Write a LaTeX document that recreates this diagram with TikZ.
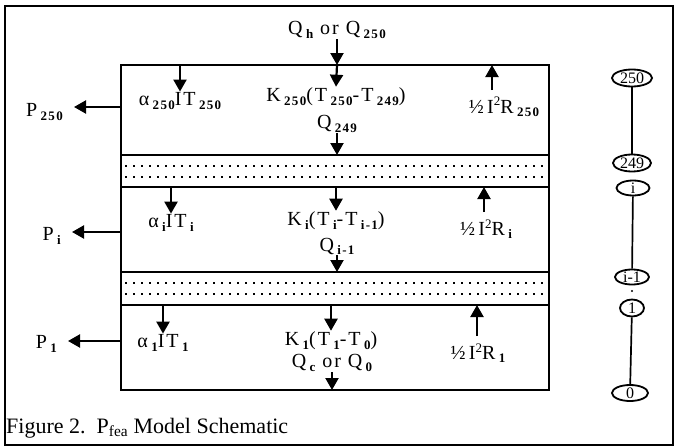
\documentclass[tikz,border=0pt]{standalone}
\usepackage{fontspec}
\setmainfont{Liberation Serif}
\newfontfamily\lblfont[LetterSpace=10]{Liberation Serif}
\usetikzlibrary{arrows.meta,shapes.geometric,positioning}
\newcommand{\sbs}[1]{\,\raisebox{-0.35ex}{\fontsize{13}{13}\selectfont\bfseries #1}}
\newcommand{\spr}[1]{\raisebox{0.8ex}{\fontsize{13}{13}\selectfont #1}}

\begin{document}
\begin{tikzpicture}[x=1pt,y=-1pt,
  lbl/.style={inner sep=1pt,font=\lblfont\fontsize{20}{22}\selectfont},
  flow/.style={line width=2.2pt,-{Triangle[width=13pt,length=12pt]}},
  wall/.style={line width=2.4pt},
  dotrow/.style={line width=1.8pt,dash pattern=on 2pt off 6pt},
  seg/.style={ellipse,draw,line width=1.8pt,inner sep=0pt,font=\fontsize{16}{16}\selectfont},
  link/.style={line width=1.7pt}]
  \useasboundingbox (0,0) rectangle (678,447);
  \def\xl{121}
  \def\xr{549}
  % frame and layers
  \draw[line width=1.5pt] (5,6) rectangle (673,445);
  \draw[wall] (\xl,65) rectangle (\xr,390);
  \foreach \y in {155,187,272,305}
    \draw[wall] (\xl,\y) -- (\xr,\y);
  \foreach \y in {166,177,283,294}
    \draw[dotrow] (\xl+4,\y) -- (\xr-4,\y);
  \coordinate (t250) at (\xl,65);
  \coordinate (b250) at (\xl,155);
  \coordinate (ti)   at (\xl,187);
  \coordinate (bi)   at (\xl,272);
  \coordinate (t1)   at (\xl,305);
  \coordinate (b1)   at (\xl,390);

  % layer 250
  \node[lbl] (qh)   at (337,30)  {Q\sbs{h} or Q\sbs{250}};
  \node[lbl] (k250) at (336,97)  {K\sbs{250}(T\sbs{250}-T\sbs{249})};
  \node[lbl] (q249) at (337,124) {Q\sbs{249}};
  \node[lbl] (a250) at (180,101) {α\sbs{250}IT\sbs{250}};
  \node[lbl] (r250) at (504,107) {½\,I\spr{2}R\sbs{250}};
  \node[lbl,anchor=east] (p250) at (64,112) {P\sbs{250}};
  \coordinate (ra250) at (492,65);
  \coordinate (e250)  at (\xl,107);
  \draw[flow] (qh.south) -- (qh.south |- t250);
  \draw[flow] (qh.south |- t250) -- (k250.north);
  \draw[flow] (q249.south) -- (q249.south |- b250);
  \draw[flow] (a250.north |- t250) -- (a250.north);
  \draw[flow,shorten <=6pt] (r250.north -| ra250) -- (ra250);
  \draw[flow,shorten >=10pt] (e250) -- (e250 -| p250.east);

  % layer i
  \node[lbl] (ki)  at (336,221) {K\sbs{i}(T\sbs{i}-T\sbs{i-1})};
  \node[lbl] (qi1) at (337,246) {Q\sbs{i-1}};
  \node[lbl] (ai)  at (171,223) {α\sbs{i}IT\sbs{i}};
  \node[lbl] (ri)  at (486,229) {½\,I\spr{2}R\sbs{i}};
  \node[lbl,anchor=east] (pi) at (62,236) {P\sbs{i}};
  \coordinate (rai) at (484,187);
  \coordinate (ei)  at (\xl,232);
  \draw[flow] (ki.north |- ti) -- (ki.north);
  \draw[flow] (qi1.south) -- (qi1.south |- bi);
  \draw[flow] (ai.north |- ti) -- (ai.north);
  \draw[flow,shorten <=6pt] (ri.north -| rai) -- (rai);
  \draw[flow,shorten >=10pt] (ei) -- (ei -| pi.east);

  % layer 1
  \node[lbl] (k1) at (331,341) {K\sbs{1}(T\sbs{1}-T\sbs{0})};
  \node[lbl] (qc) at (332,363) {Q\sbs{c} or Q\sbs{0}};
  \node[lbl] (a1) at (163,343) {α\sbs{1}IT\sbs{1}};
  \node[lbl] (r1) at (478,353) {½\,I\spr{2}R\sbs{1}};
  \node[lbl,anchor=east] (p1) at (58,344) {P\sbs{1}};
  \coordinate (ra1) at (477,305);
  \coordinate (e1)  at (\xl,341);
  \draw[flow] (k1.north |- t1) -- (k1.north);
  \draw[flow] (qc.south) -- (qc.south |- b1);
  \draw[flow] (a1.north |- t1) -- (a1.north);
  \draw[flow,shorten <=6pt] (r1.north -| ra1) -- (ra1);
  \draw[flow,shorten >=10pt] (e1) -- (e1 -| p1.east);

  % segment chain
  \node[seg,minimum width=40pt,minimum height=17pt] (n250) at (632,78)  {250};
  \node[seg,minimum width=38pt,minimum height=17pt] (n249) at (632,163) {249};
  \node[seg,minimum width=33pt,minimum height=14pt] (ni)   at (633,188) {i};
  \node[seg,minimum width=34pt,minimum height=15pt] (ni1)  at (632,277) {i-1};
  \node[seg,minimum width=24pt,minimum height=17pt] (n1)   at (632,308) {1};
  \node[seg,minimum width=36pt,minimum height=16pt] (n0)   at (630,393) {0};
  \draw[link] (n250) -- (n249);
  \draw[link] (ni) -- (ni1);
  \draw[link] (n1) -- (n0);
  \fill (632,291) circle (1.2pt);

  \node[anchor=base west,inner sep=0pt,font=\fontsize{22}{24}\selectfont] (cap) at (6,433)
    {Figure 2.\ \ P\textsubscript{fea} Model Schematic};
\end{tikzpicture}
\end{document}
